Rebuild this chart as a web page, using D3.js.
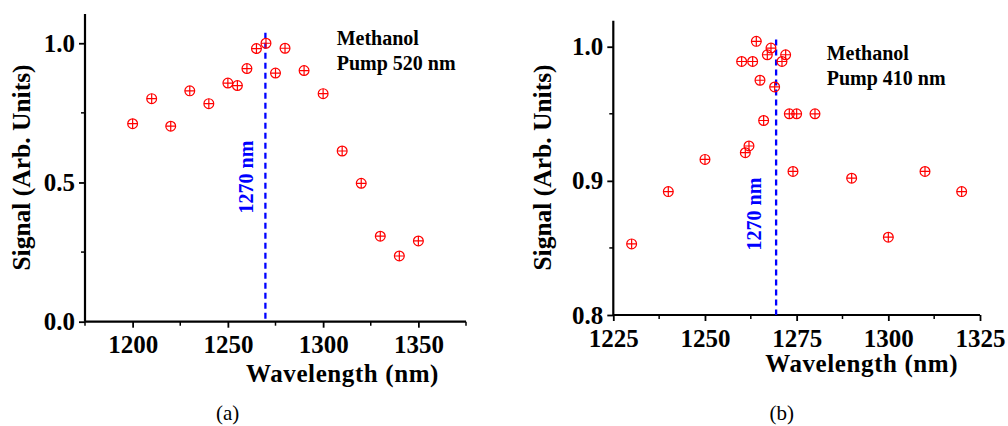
<!DOCTYPE html>
<html>
<head>
<meta charset="utf-8">
<script src="https://cdn.jsdelivr.net/npm/d3@7"></script>
<style>
  html, body { margin: 0; padding: 0; background: #fff; }
</style>
</head>
<body>
<svg id="chart" width="1008" height="426"></svg>
<script>
// Panel (a): methanol, pump 520 nm
const wavelengthA = [1200, 1210, 1220, 1230, 1240, 1250, 1255, 1260, 1265, 1270,
                     1275, 1280, 1290, 1300, 1310, 1320, 1330, 1340, 1350];
const signalA = [0.711, 0.801, 0.702, 0.829, 0.783, 0.857, 0.848, 0.909, 0.981, 1.0,
                 0.893, 0.982, 0.902, 0.819, 0.613, 0.497, 0.307, 0.236, 0.290];
const xTicksA = [1200, 1250, 1300, 1350];
const yTicksA = [0.0, 0.5, 1.0];

// Panel (b): methanol, pump 410 nm
const wavelengthB = [1230, 1240, 1250, 1260, 1261, 1262, 1263, 1264, 1265, 1266, 1267, 1268,
                     1269, 1271, 1272, 1273, 1274, 1275, 1280, 1290, 1300, 1310, 1320];
const signalB = [0.853, 0.892, 0.916, 0.989, 0.921, 0.926, 0.989, 1.004, 0.975, 0.945, 0.994, 0.999,
                 0.970, 0.989, 0.994, 0.950, 0.907, 0.950, 0.950, 0.902, 0.858, 0.907, 0.892];
const xTicksB = [1225, 1250, 1275, 1300, 1325];
const yTicksB = [0.8, 0.9, 1.0];

const markLine = 1270;
const SERIF = "'Liberation Serif', 'Times New Roman', serif";

const svg = d3.select('#chart');

const panels = [
  {
    xs: wavelengthA, ys: signalA, xTicks: xTicksA, yTicks: yTicksA,
    xDomain: [1175, 1375], yDomain: [0, 1.105],
    left: 85, right: 466, top: 14, bottom: 321.7,
    lineTop: 1.038, lineX: 1269.7,
    xMinor: 25, yMinor: 0.25,
    tag: ['Methanol', 'Pump 520 nm'], tagX: 336.7, tagY: 45,
    vlabelX: 253, vlabelY: 177,
    yTitleX: 30, xTitleX: 342.5, xTitleY: 381.5,
    caption: '(a)', capX: 227.7
  },
  {
    xs: wavelengthB, ys: signalB, xTicks: xTicksB, yTicks: yTicksB,
    xDomain: [1225, 1325], yDomain: [0.8, 1.0194],
    left: 613.3, right: 980, top: 20.7, bottom: 315,
    lineTop: 1.0054, lineX: 1269.4,
    xMinor: 12.5, yMinor: 0.05,
    tag: ['Methanol', 'Pump 410 nm'], tagX: 826.7, tagY: 60,
    vlabelX: 761, vlabelY: 214,
    yTitleX: 551, xTitleX: 861.7, xTitleY: 371.5,
    caption: '(b)', capX: 781.7
  }
];

panels.forEach(p => {
  const x = d3.scaleLinear().domain(p.xDomain).range([p.left, p.right]);
  const y = d3.scaleLinear().domain(p.yDomain).range([p.bottom, p.top]);
  const g = svg.append('g').style('font-family', SERIF);

  // minor ticks between the labelled ones
  const xMinor = d3.range(p.xDomain[0], p.xDomain[1] + 1e-6, p.xMinor)
    .filter(v => !p.xTicks.some(t => Math.abs(t - v) < 1e-6));
  const yMinor = d3.range(p.yDomain[0], p.yDomain[1] + 1e-6, p.yMinor)
    .filter(v => !p.yTicks.some(t => Math.abs(t - v) < 1e-6));

  const xAxis = g.append('g')
    .attr('transform', `translate(0,${p.bottom})`)
    .call(d3.axisBottom(x).tickValues(p.xTicks).tickSize(6).tickPadding(8)
      .tickSizeOuter(0).tickFormat(d3.format('d')));
  g.append('g')
    .attr('transform', `translate(0,${p.bottom})`)
    .selectAll('line').data(xMinor).enter().append('line')
    .attr('x1', d => x(d)).attr('x2', d => x(d)).attr('y1', 0).attr('y2', 4)
    .attr('stroke', '#000').attr('stroke-width', 1.5);

  const yAxis = g.append('g')
    .attr('transform', `translate(${p.left},0)`)
    .call(d3.axisLeft(y).tickValues(p.yTicks).tickSize(6).tickPadding(4)
      .tickSizeOuter(0).tickFormat(d3.format('.1f')));
  g.append('g')
    .attr('transform', `translate(${p.left},0)`)
    .selectAll('line').data(yMinor).enter().append('line')
    .attr('y1', d => y(d)).attr('y2', d => y(d)).attr('x1', 0).attr('x2', -4)
    .attr('stroke', '#000').attr('stroke-width', 1.5);

  [xAxis, yAxis].forEach(a => {
    a.attr('font-family', null).attr('font-size', null);
    a.select('.domain').attr('stroke', '#000').attr('stroke-width', 2.2);
    a.selectAll('.tick line').attr('stroke', '#000').attr('stroke-width', 1.8);
    a.selectAll('.tick text')
      .attr('fill', '#000')
      .style('font-family', SERIF)
      .style('font-weight', 'bold')
      .style('font-size', '25px');
  });
  yAxis.select('.domain').attr('d', `M0,${p.bottom}V${p.top}`);
  xAxis.select('.domain').attr('d', `M${p.left},0H${p.right}`);

  // dashed 1270 nm marker
  g.append('line')
    .attr('x1', x(p.lineX)).attr('x2', x(p.lineX))
    .attr('y1', y(p.lineTop)).attr('y2', p.bottom)
    .attr('stroke', '#0000ff').attr('stroke-width', 2.3)
    .attr('stroke-dasharray', '6,4');

  g.append('text')
    .attr('transform', `translate(${p.vlabelX},${p.vlabelY}) rotate(-90)`)
    .attr('text-anchor', 'middle')
    .attr('fill', '#0000ff')
    .style('font-weight', 'bold').style('font-size', '20px')
    .text(markLine + ' nm');

  // circle-plus markers
  const r = 4.9;
  const pts = p.xs.map((v, i) => [v, p.ys[i]]);
  const m = g.selectAll('.pt').data(pts).enter().append('g')
    .attr('transform', d => `translate(${x(d[0])},${y(d[1])})`)
    .attr('stroke', '#ff0000').attr('stroke-width', 1.2).attr('fill', 'none');
  m.append('circle').attr('r', r);
  m.append('path').attr('d', `M${-r},0H${r}M0,${-r}V${r}`);

  // sample annotation
  const tag = g.append('text')
    .style('font-weight', 'bold').style('font-size', '20px').attr('fill', '#000');
  tag.append('tspan').attr('x', p.tagX).attr('y', p.tagY).text(p.tag[0]);
  tag.append('tspan').attr('x', p.tagX).attr('y', p.tagY + 24.5).text(p.tag[1]);

  // axis titles
  g.append('text')
    .attr('transform', `translate(${p.yTitleX},167.5) rotate(-90)`)
    .attr('text-anchor', 'middle')
    .style('font-weight', 'bold').style('font-size', '25.5px').attr('fill', '#000')
    .text('Signal (Arb. Units)');
  g.append('text')
    .attr('x', p.xTitleX).attr('y', p.xTitleY)
    .attr('text-anchor', 'middle')
    .style('font-weight', 'bold').style('font-size', '25px')
    .style('letter-spacing', '0.6px').attr('fill', '#000')
    .text('Wavelength (nm)');

  g.append('text')
    .attr('x', p.capX).attr('y', 420)
    .attr('text-anchor', 'middle')
    .style('font-size', '21px').attr('fill', '#000')
    .text(p.caption);
});
</script>
</body>
</html>
